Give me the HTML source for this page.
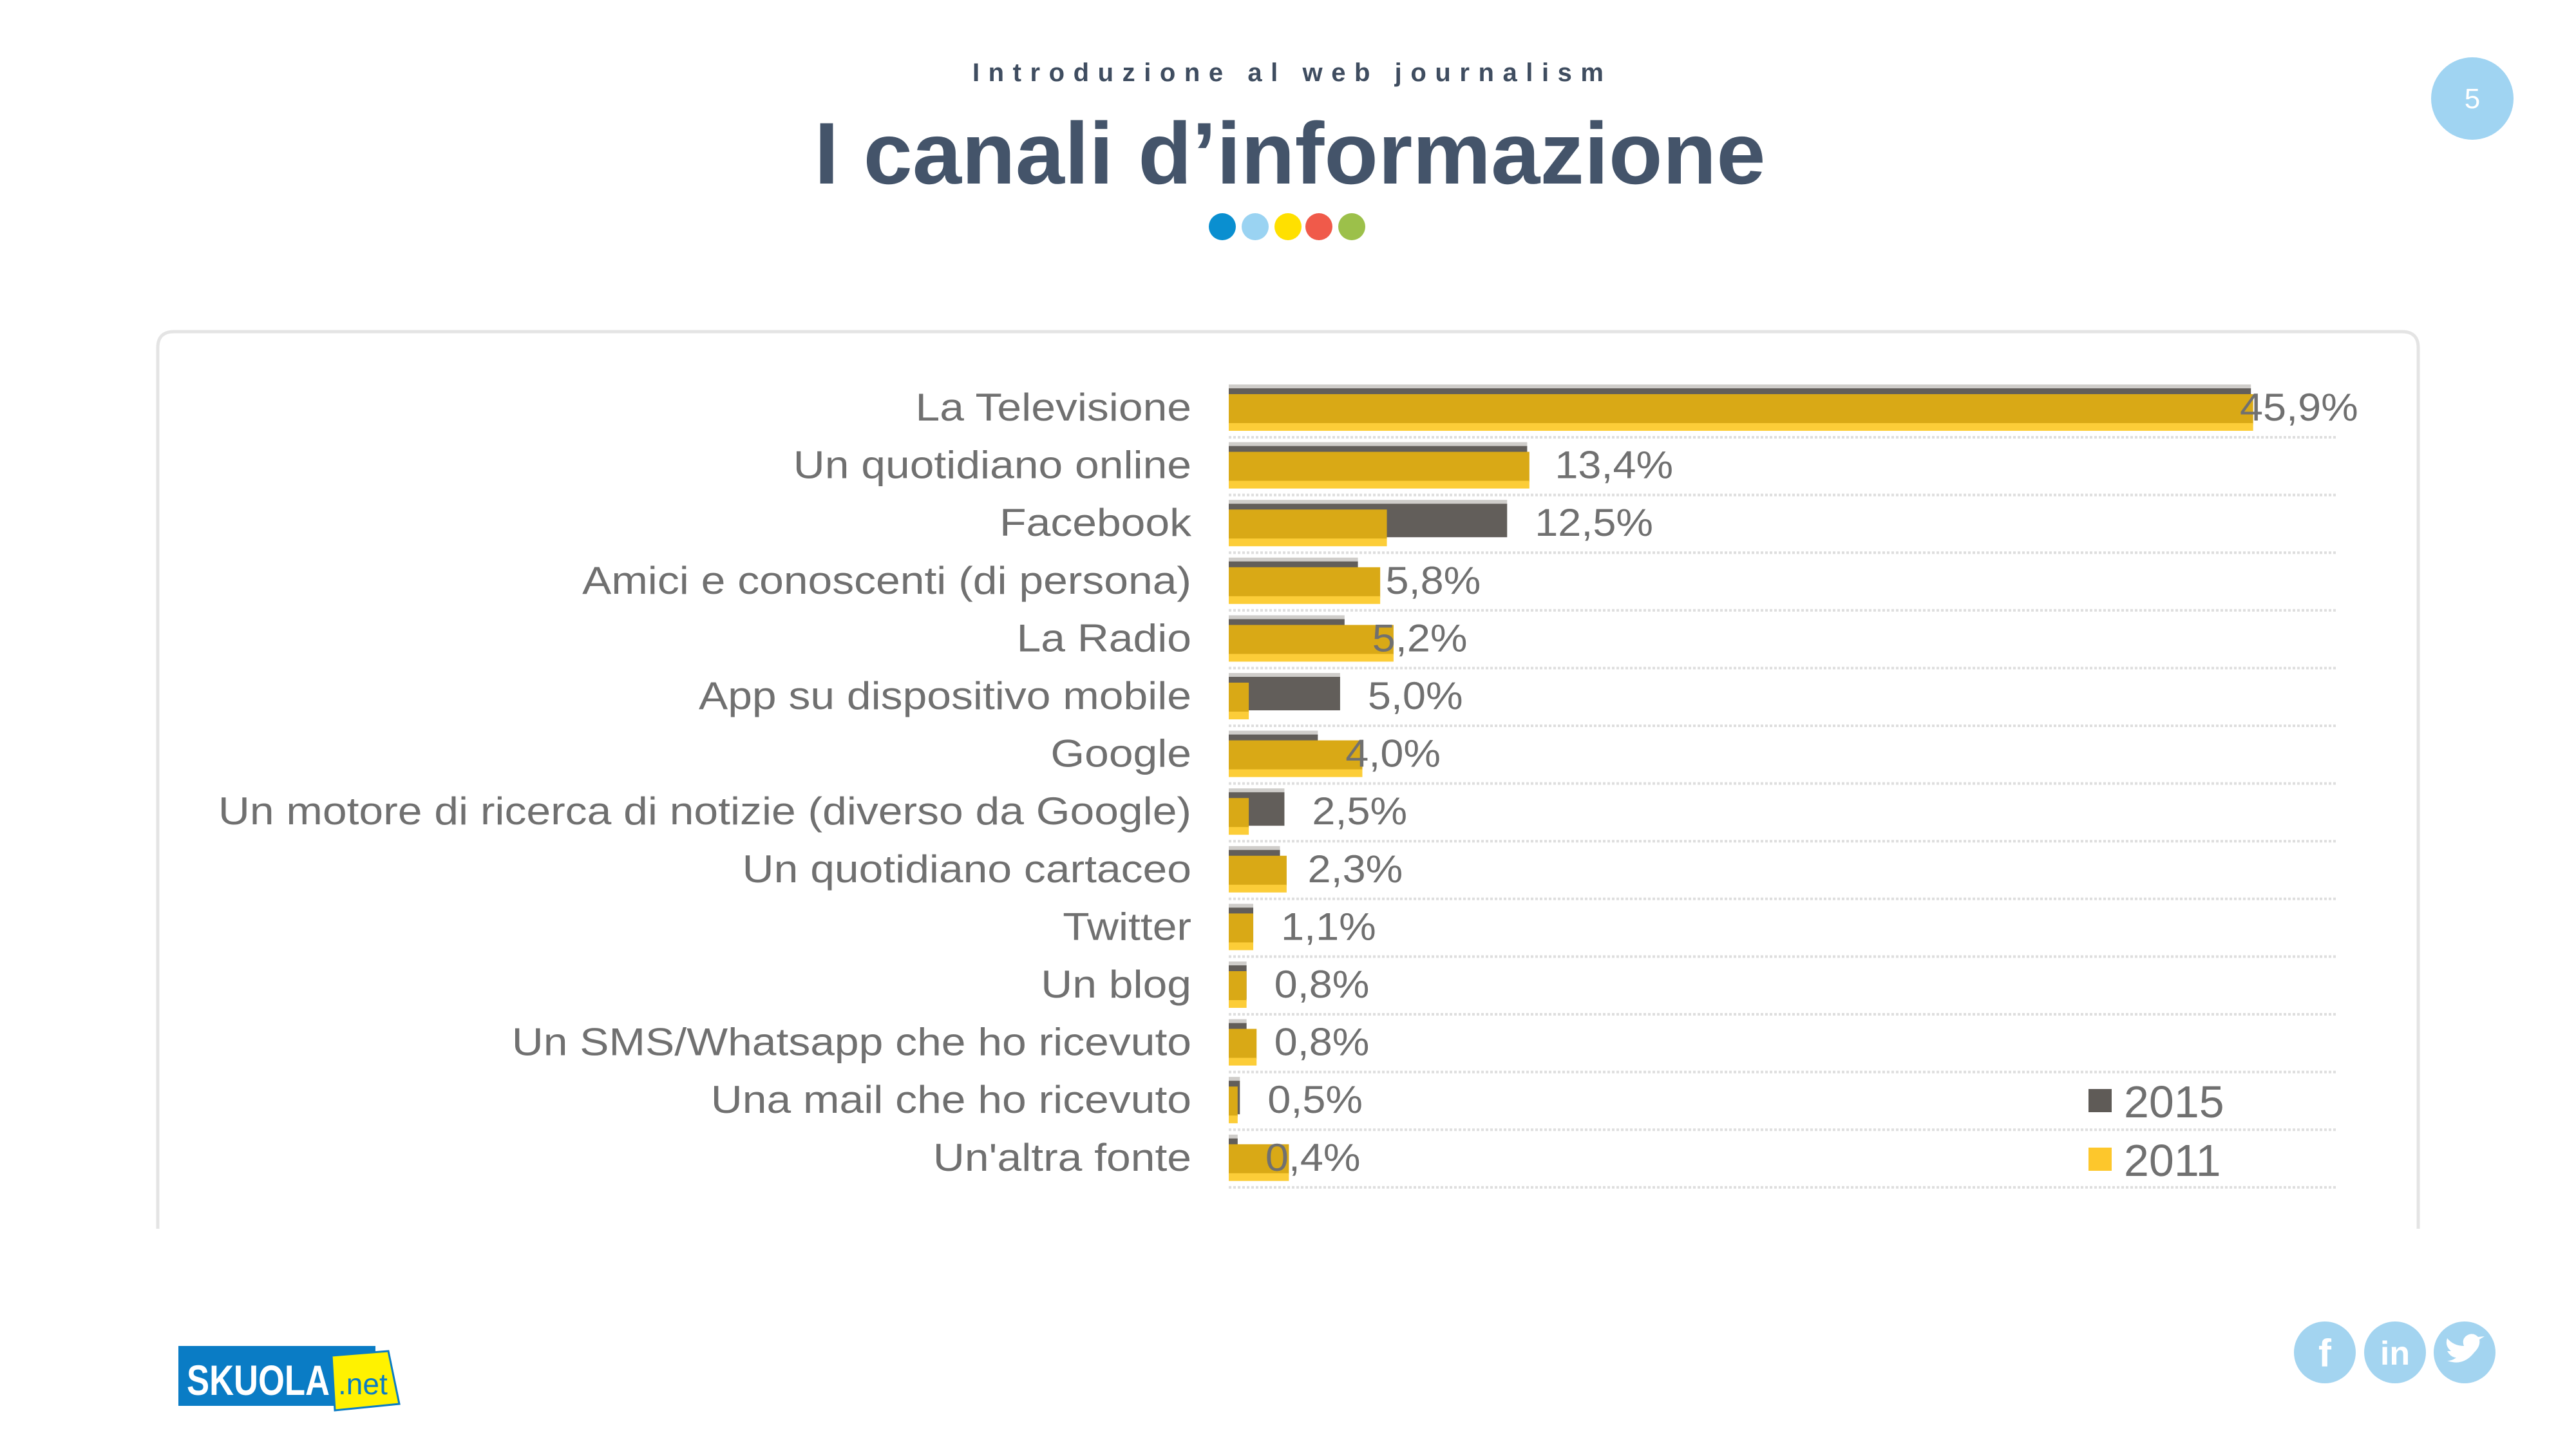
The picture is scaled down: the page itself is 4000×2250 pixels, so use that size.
<!DOCTYPE html>
<html><head><meta charset="utf-8"><style>
html,body{margin:0;padding:0;background:#fff;}
body{width:4000px;height:2250px;overflow:hidden;position:relative;font-family:"Liberation Sans",sans-serif;}
svg{position:absolute;left:0;top:0;}
</style></head><body>
<svg id="slide" width="4000" height="2250" viewBox="0 0 4000 2250">
  <text x="2000" y="126" text-anchor="middle" font-size="40" font-weight="bold" fill="#3f4d60" textLength="980" lengthAdjust="spacing">Introduzione al web journalism</text>
  <text x="2003" y="285" text-anchor="middle" font-size="136" font-weight="bold" fill="#44546a" textLength="1477" lengthAdjust="spacingAndGlyphs">I canali d’informazione</text>
  <g>
    <circle cx="1898" cy="352" r="21" fill="#0a8fd0"/>
    <circle cx="1949" cy="352" r="21" fill="#9ad3f2"/>
    <circle cx="2000" cy="352" r="21" fill="#ffe000"/>
    <circle cx="2048" cy="352" r="21" fill="#f05a4a"/>
    <circle cx="2099" cy="352" r="21" fill="#9cc04a"/>
  </g>
  <g>
    <circle cx="3839" cy="153" r="64" fill="#a0d4f2"/>
    <text x="3839" y="168" text-anchor="middle" font-size="44" fill="#fff">5</text>
  </g>
  <path d="M245 1908 V540 Q245 515 270 515 H3730 Q3755 515 3755 540 V1908" fill="#fff" stroke="#e4e4e4" stroke-width="5"/>
  <g id="chart"></g>
  <g>
    <rect x="3243" y="1691" width="36" height="36" fill="#5f5b57"/>
    <text x="3298" y="1735" font-size="70" fill="#707070">2015</text>
    <rect x="3243" y="1782" width="36" height="36" fill="#fdc72c"/>
    <text x="3298" y="1826" font-size="70" fill="#707070">2011</text>
  </g>
  <g>
    <rect x="277" y="2090" width="306" height="93" fill="#0a7cc5"/>
    <text x="290" y="2166" font-size="66" font-weight="bold" fill="#fff" textLength="222" lengthAdjust="spacingAndGlyphs">SKUOLA</text>
    <polygon points="515,2105 603,2098 620,2180 520,2190" fill="#fff200" stroke="#0a7cc5" stroke-width="3"/>
    <text x="525" y="2165" font-size="46" fill="#0a7cc5">.net</text>
  </g>
  <g>
    <circle cx="3610" cy="2100" r="48" fill="#a3d4f0"/>
    <text x="3610" y="2122" text-anchor="middle" font-size="60" font-weight="bold" fill="#fff">f</text>
    <circle cx="3719" cy="2100" r="48" fill="#a3d4f0"/>
    <text x="3719" y="2119" text-anchor="middle" font-size="52" font-weight="bold" fill="#fff">in</text>
    <circle cx="3827" cy="2100" r="48" fill="#a3d4f0"/>
    <path d="M3800 2113 Q3825 2122 3842 2100 Q3852 2090 3850 2080 L3858 2075 L3848 2076 Q3840 2068 3830 2074 Q3822 2080 3826 2090 Q3810 2090 3800 2078 Q3796 2090 3806 2098 L3800 2098 Q3806 2108 3814 2108 Q3808 2113 3800 2113 Z" fill="#fff"/>
  </g>
</svg>
<script>
const categories = ["La Televisione","Un quotidiano online","Facebook","Amici e conoscenti (di persona)","La Radio","App su dispositivo mobile","Google","Un motore di ricerca di notizie (diverso da Google)","Un quotidiano cartaceo","Twitter","Un blog","Un SMS/Whatsapp che ho ricevuto","Una mail che ho ricevuto","Un'altra fonte"];
const values2015 = [45.9,13.4,12.5,5.8,5.2,5.0,4.0,2.5,2.3,1.1,0.8,0.8,0.5,0.4];
const values2011 = [46.0,13.5,7.1,6.8,7.4,0.9,6.0,0.9,2.6,1.1,0.8,1.25,0.4,2.7];
const valueLabels = ["45,9%","13,4%","12,5%","5,8%","5,2%","5,0%","4,0%","2,5%","2,3%","1,1%","0,8%","0,8%","0,5%","0,4%"];

const NS = "http://www.w3.org/2000/svg";
const g = document.getElementById('chart');
const x0 = 1908, pxPerUnit = 34.58, y0 = 633, rowH = 89.6;
const xScale = v => x0 + v * pxPerUnit;
const yScale = i => y0 + i * rowH;
function mk(tag, attrs){ const e = document.createElementNS(NS, tag); for (const k in attrs) e.setAttribute(k, attrs[k]); g.appendChild(e); return e; }

categories.forEach((c, i) => {
  const cy = yScale(i);
  const grid = mk('line', {x1: x0, x2: 3630, y1: cy + 46, y2: cy + 46, stroke: '#dedede', 'stroke-width': 4, 'stroke-dasharray': '4 3'});
  
  
  const lab = mk('text', {x: 1850, y: cy + 20, 'text-anchor': 'end', 'font-size': 60, fill: '#707070'});
  lab.textContent = c;
  
  
  const w = lab.getComputedTextLength();
  lab.setAttribute('textLength', (w * 1.13).toFixed(1));
  lab.setAttribute('lengthAdjust', 'spacingAndGlyphs');
  const topStrip = mk('rect', {x: x0, y: cy - 36, width: xScale(values2015[i]) - x0, height: 8, fill: '#cfcdca'});
  
  
  const b15 = mk('rect', {x: x0, y: cy - 30, width: xScale(values2015[i]) - x0, height: 52, fill: '#625e5a'});
  
  
  const b11 = mk('rect', {x: x0, y: cy - 21, width: xScale(values2011[i]) - x0, height: 47, fill: '#d9a916'});
  
  
  const b11b = mk('rect', {x: x0, y: cy + 24, width: xScale(values2011[i]) - x0, height: 12, fill: '#fccd38'});
  
  
  const lx = Math.min(xScale(values2015[i]) + 43, 3478);
  const vl = mk('text', {x: lx, y: cy + 20, 'font-size': 60, fill: '#707070'});
  vl.textContent = valueLabels[i];
  
  
  const vw = vl.getComputedTextLength();
  vl.setAttribute('textLength', (vw * 1.08).toFixed(1));
  vl.setAttribute('lengthAdjust', 'spacingAndGlyphs');
});
</script>
</body></html>
